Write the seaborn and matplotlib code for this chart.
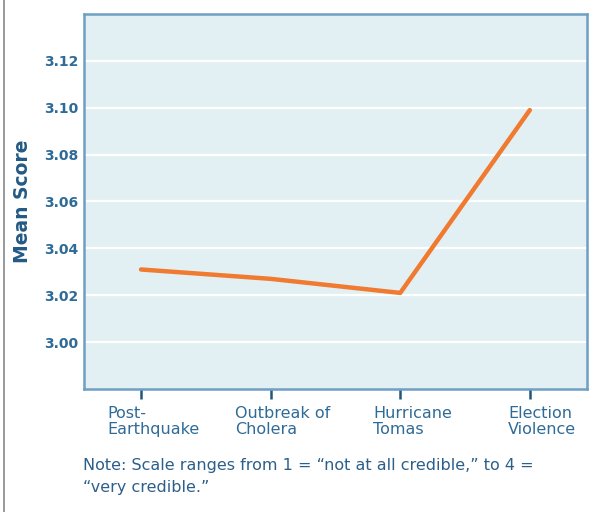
import matplotlib
matplotlib.use("Agg")
import matplotlib.pyplot as plt
from matplotlib.lines import Line2D
import pandas as pd
import seaborn as sns

categories = ["Post-\nEarthquake", "Outbreak of\nCholera", "Hurricane\nTomas", "Election\nViolence"]
mean_scores = [3.031, 3.027, 3.021, 3.099]
y_ticks = [3.00, 3.02, 3.04, 3.06, 3.08, 3.10, 3.12]
note = "Note: Scale ranges from 1 = \u201cnot at all credible,\u201d to 4 =\n\u201cvery credible.\u201d"

df = pd.DataFrame({"period": categories, "score": mean_scores})
df["pos"] = range(len(categories))

sns.set_style("white")
plt.rcParams["font.family"] = ["DejaVu Sans"]

text_col = "#2f6b97"
spine_col = "#6e9fc4"

fig = plt.figure(figsize=(5.97, 5.12), dpi=100)
ax = fig.add_axes([0.1407, 0.2402, 0.8423, 0.7325])
ax.set_facecolor("#e3f0f3")

# horizontal white grid
for t in y_ticks:
    ax.axhline(t, color="white", lw=1.6, zorder=1)

sns.lineplot(data=df, x="pos", y="score", sort=False, color="#f07a30",
             lw=3.2, ax=ax, zorder=3, solid_capstyle="round")

ax.set_xlim(-0.44, 3.44)
ax.set_ylim(2.98, 3.14)
ax.set_yticks(y_ticks)
ax.set_yticklabels([f"{t:.2f}" for t in y_ticks], color=text_col,
                   fontsize=10, fontweight="bold")
ax.set_xticks(df["pos"])
ax.set_xticklabels([])

# category labels sit a little right of their tick marks
for p, cat in zip(df["pos"], df["period"]):
    ax.annotate(cat, xy=(p, 0), xycoords=("data", "axes fraction"),
                xytext=(9, -12), textcoords="offset points",
                ha="center", va="top", multialignment="left",
                color=text_col, fontsize=11.5, linespacing=1.12)

ax.tick_params(axis="y", left=False, length=0, pad=4)
ax.tick_params(axis="x", bottom=True, length=7, width=1.8, color="#24557a",
               direction="out")
ax.set_xlabel("")
ax.set_ylabel("Mean Score", color="#235a85", fontsize=13.5,
              fontweight="bold", labelpad=9)

for s in ax.spines.values():
    s.set_color(spine_col)
    s.set_linewidth(1.8)

fig.text(0.139, 0.105, note, color="#2c5f8a", fontsize=11.5,
         ha="left", va="top", linespacing=1.55,
         transform=fig.transFigure)
fig.add_artist(Line2D([0.007, 0.007], [0, 1], color="#888888", lw=1.2,
                      transform=fig.transFigure))

fig.savefig("out.png", dpi=100)
